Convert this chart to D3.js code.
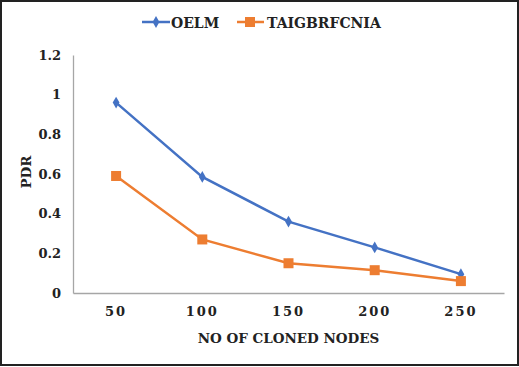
<!DOCTYPE html>
<html>
<head>
<meta charset="utf-8">
<script src="https://cdn.jsdelivr.net/npm/d3@7"></script>
<style>
  body { margin: 0; background: #fff; }
</style>
</head>
<body>
<div id="chart"></div>
<script>
// data
var nodes = ["50", "100", "150", "200", "250"];
var oelm = [0.96, 0.585, 0.36, 0.23, 0.095];
var taig = [0.59, 0.27, 0.15, 0.115, 0.06];
var seriesNames = ["OELM", "TAIGBRFCNIA"];
var yTicks = [0, 0.2, 0.4, 0.6, 0.8, 1, 1.2];

var W = 519, H = 367;
// Liberation Serif falls back to a sans here, DejaVu Serif renders properly
var serif = "DejaVu Serif";
var margin = { top: 55, right: 15, bottom: 74, left: 73 },
  width = 504 - margin.left,
  height = 293 - margin.top;

var svg = d3.select("#chart")
  .append("svg")
  .attr("width", W)
  .attr("height", H)
  .attr("font-family", serif)
  .attr("font-weight", "bold");

// outer frame
svg.append("rect")
  .attr("x", 1).attr("y", 1)
  .attr("width", W - 2).attr("height", H - 3)
  .attr("fill", "none")
  .attr("stroke", "#222")
  .attr("stroke-width", 2);

var g = svg.append("g")
  .attr("transform", "translate(" + margin.left + "," + margin.top + ")");

var x = d3.scaleBand()
  .domain(nodes)
  .range([0, width]);

var y = d3.scaleLinear()
  .domain([0, 1.2])
  .range([height, 0]);

// X axis
var xAxis = g.append("g")
  .attr("transform", "translate(0," + height + ")")
  .call(d3.axisBottom(x).tickSize(0).tickPadding(14));
xAxis.attr("font-family", serif).attr("font-size", 13);
xAxis.select(".domain").attr("stroke", "#a6a6a6").attr("stroke-width", 1.3);
xAxis.selectAll("text")
  .style("letter-spacing", "2px")
  .attr("fill", "#222");

// Y axis
var yAxis = g.append("g")
  .call(d3.axisLeft(y).tickValues(yTicks).tickSize(0).tickPadding(12)
    .tickFormat(function (d) { return d3.format("")(d); }));
yAxis.attr("font-family", serif).attr("font-size", 13);
yAxis.select(".domain").attr("stroke", "#a6a6a6").attr("stroke-width", 1.3);
yAxis.selectAll("text").attr("fill", "#222");

// axis titles
svg.append("text")
  .attr("x", margin.left + width / 2)
  .attr("y", 343)
  .attr("text-anchor", "middle")
  .attr("fill", "#222")
  .style("font-size", "13.5px")
  .text("NO OF CLONED NODES");

svg.append("text")
  .attr("transform", "translate(31,172) rotate(-90)")
  .attr("text-anchor", "middle")
  .attr("fill", "#222")
  .style("font-size", "13.5px")
  .text("PDR");

var cx = function (d, i) { return x(nodes[i]) + x.bandwidth() / 2; };
var line = d3.line()
  .x(cx)
  .y(function (d) { return y(d); });

// OELM
g.append("path")
  .datum(oelm)
  .attr("fill", "none")
  .attr("stroke", "#4472c4")
  .attr("stroke-width", 2.5)
  .attr("d", line);
g.selectAll("mydiamond")
  .data(oelm)
  .enter()
  .append("path")
  .attr("d", d3.symbol().type(d3.symbolDiamond).size(40))
  .attr("transform", function (d, i) { return "translate(" + cx(d, i) + "," + y(d) + ")"; })
  .attr("fill", "#4472c4");

// TAIGBRFCNIA
g.append("path")
  .datum(taig)
  .attr("fill", "none")
  .attr("stroke", "#ed7d31")
  .attr("stroke-width", 2.5)
  .attr("d", line);
g.selectAll("mysquare")
  .data(taig)
  .enter()
  .append("rect")
  .attr("x", function (d, i) { return cx(d, i) - 5; })
  .attr("y", function (d) { return y(d) - 5; })
  .attr("width", 10)
  .attr("height", 10)
  .attr("fill", "#ed7d31");

// legend
var legend = svg.append("g").attr("transform", "translate(0,22)");
legend.append("line")
  .attr("x1", 142).attr("x2", 170).attr("y1", 0).attr("y2", 0)
  .attr("stroke", "#4472c4").attr("stroke-width", 2.5);
legend.append("path")
  .attr("d", d3.symbol().type(d3.symbolDiamond).size(40))
  .attr("transform", "translate(156,0)")
  .attr("fill", "#4472c4");
legend.append("text")
  .attr("x", 171).attr("y", 5.5)
  .attr("fill", "#222")
  .style("font-size", "14px")
  .text(seriesNames[0]);
legend.append("line")
  .attr("x1", 237).attr("x2", 264).attr("y1", 0).attr("y2", 0)
  .attr("stroke", "#ed7d31").attr("stroke-width", 2.5);
legend.append("rect")
  .attr("x", 245).attr("y", -5).attr("width", 10).attr("height", 10)
  .attr("fill", "#ed7d31");
legend.append("text")
  .attr("x", 267).attr("y", 5.5)
  .attr("fill", "#222")
  .style("font-size", "14px")
  .text(seriesNames[1]);
</script>
</body>
</html>
